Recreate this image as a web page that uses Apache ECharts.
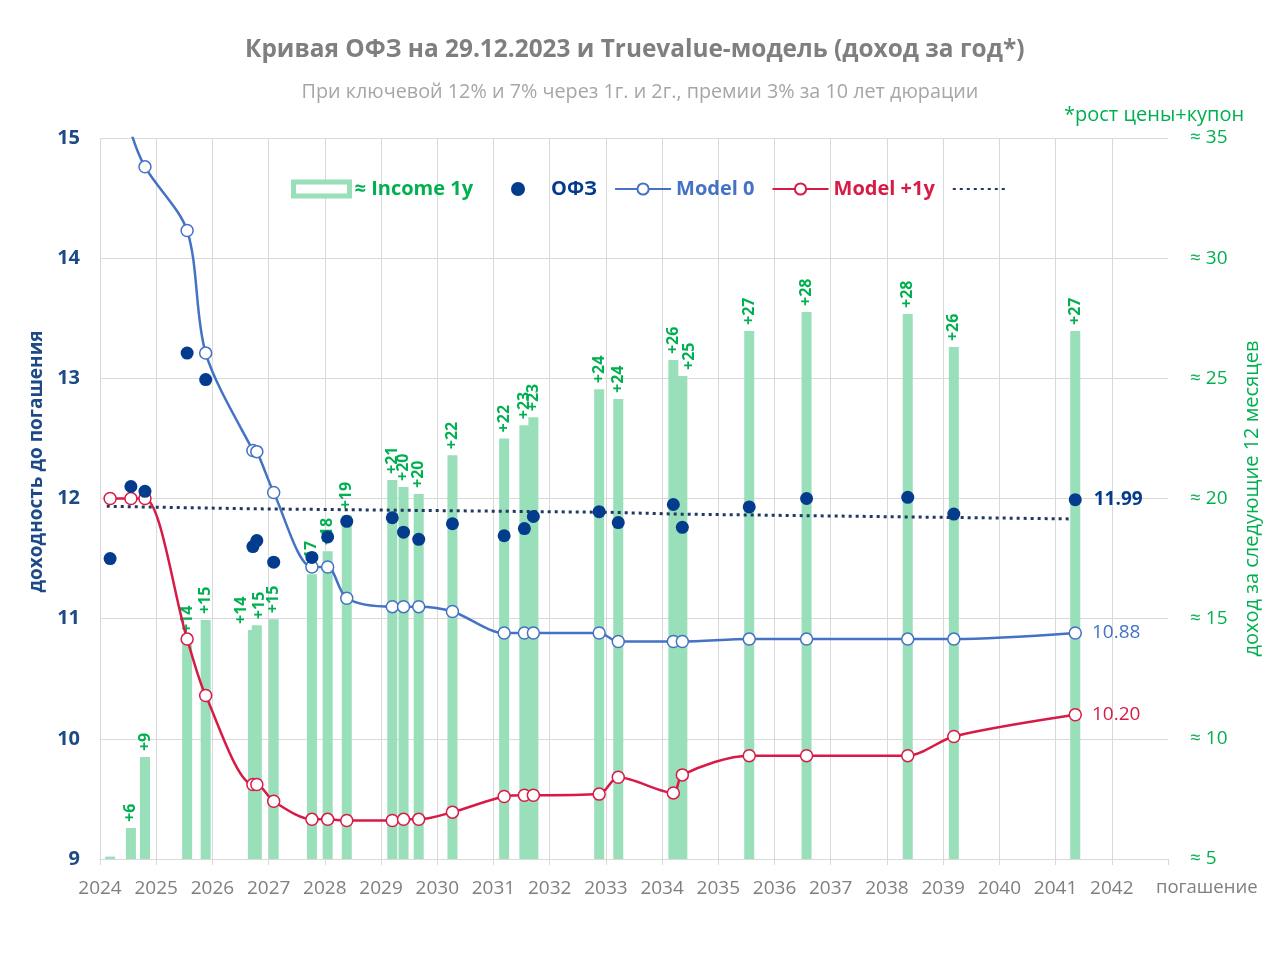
<!DOCTYPE html>
<html><head><meta charset="utf-8">
<script src="https://cdn.jsdelivr.net/npm/echarts@6/dist/echarts.min.js"></script>
<style>html,body{margin:0;padding:0;background:#fff}#c{width:1280px;height:960px}</style>
</head><body><div id="c"></div>
<script>
// maturities (decimal years)
const maturities = [2024.18, 2024.55, 2024.80, 2025.55, 2025.88, 2026.72, 2026.79, 2027.09, 2027.77, 2028.05, 2028.39, 2029.20, 2029.40, 2029.67, 2030.27, 2031.19, 2031.55, 2031.71, 2032.88, 2033.22, 2034.20, 2034.36, 2035.55, 2036.57, 2038.37, 2039.19, 2041.35];
// ОФЗ yields
const ofzYield = [11.50, 12.10, 12.06, 13.21, 12.99, 11.60, 11.65, 11.47, 11.51, 11.68, 11.81, 11.84, 11.72, 11.66, 11.79, 11.69, 11.75, 11.85, 11.89, 11.80, 11.95, 11.76, 11.93, 12.00, 12.01, 11.87, 11.99];
// Model 0
const model0 = [15.70, 15.05, 14.76, 14.23, 13.21, 12.40, 12.39, 12.05, 11.43, 11.43, 11.17, 11.10, 11.10, 11.10, 11.06, 10.88, 10.88, 10.88, 10.88, 10.81, 10.81, 10.81, 10.83, 10.83, 10.83, 10.83, 10.88];
// Model +1y
const model1 = [12.00, 12.00, 12.00, 10.83, 10.36, 9.62, 9.62, 9.48, 9.33, 9.33, 9.32, 9.32, 9.33, 9.33, 9.39, 9.52, 9.53, 9.53, 9.54, 9.68, 9.55, 9.70, 9.86, 9.86, 9.86, 10.02, 10.20];
// Income over next 12 months (right axis)
const income = [5.1, 6.29, 9.24, 14.15, 14.94, 14.53, 14.73, 14.98, 16.85, 17.8, 19.3, 20.77, 20.48, 20.19, 21.8, 22.5, 23.05, 23.38, 24.55, 24.14, 25.76, 25.1, 26.97, 27.76, 27.68, 26.3, 26.97];
const incomeLabels = ['', '+6', '+9', '+14', '+15', '+14', '+15', '+15', '+17', '+18', '+19', '+21', '+20', '+20', '+22', '+22', '+23', '+23', '+24', '+24', '+26', '+25', '+27', '+28', '+28', '+26', '+27'];
// dotted trend line
const trendX = [2024.12, 2026.61, 2033.06, 2034.30, 2041.28];
const trendY = [11.935, 11.915, 11.885, 11.87, 11.83];
// axis ticks
const xTicks = {min: 2024, max: 2043, interval: 1};
const yLeft = {min: 9, max: 15, interval: 1};
const yRight = {min: 5, max: 35, interval: 5};

// styling: horizontal nudges of crowded bar labels (px), by bar index
const labelShift = {5: -11, 6: 3, 21: 7};

const C = {
  navy: '#033b8d', axisNavy: '#1d4a87', blue: '#4472c4', red: '#d81b46',
  green: '#00b050', bar: '#99dfb9', grid: '#d9d9d9', grey: '#7f7f7f', lightGrey: '#a6a6a6', trend: '#1f3864'
};
const FF = 'Open Sans';
const last = maturities.length - 1;

function pairs(ys, endLabel) {
  return maturities.map((x, i) => {
    const item = {value: [x, ys[i]]};
    if (endLabel && i === last) item.label = endLabel;
    return item;
  });
}

// label is rotated 90°, so its local y-offset moves it horizontally on screen
const barData = maturities.map((x, i) => {
  const item = {value: [x, income[i]]};
  if (labelShift[i] !== undefined) item.label = {offset: [0, labelShift[i]]};
  return item;
});

const legendBase = {
  top: 174, itemWidth: 56, itemHeight: 14, itemGap: 17,
  formatter: n => n === 'trend' ? '' : n,
  textStyle: {fontFamily: FF, fontSize: 20, fontWeight: 'bold'}
};

const chart = echarts.init(document.getElementById('c'), null, {renderer: 'canvas'});
chart.setOption({
  backgroundColor: '#fff',
  animation: false,
  textStyle: {fontFamily: FF},
  title: [
    {text: 'Кривая ОФЗ на 29.12.2023 и Truevalue-модель (доход за год*)', left: 240, top: 33,
     textStyle: {fontFamily: FF, fontSize: 24.4, fontWeight: 'bold', color: C.grey}},
    {text: 'При ключевой 12% и 7% через 1г. и 2г., премии 3% за 10 лет дюрации', left: 'center', top: 77,
     textStyle: {fontFamily: FF, fontSize: 19.8, fontWeight: 'normal', color: C.lightGrey}},
    {text: '*рост цены+купон', left: 1059, top: 100,
     textStyle: {fontFamily: FF, fontSize: 20, fontWeight: 'normal', color: C.green}}
  ],
  legend: [
    Object.assign({}, legendBase, {
      left: 286,
      data: [{name: '≈ Income 1y', icon: 'rect', itemStyle: {color: '#fff', borderColor: C.bar, borderWidth: 5},
              textStyle: {color: C.green}}]
    }),
    Object.assign({}, legendBase, {
      left: 506,
      data: [
        {name: 'ОФЗ', icon: 'circle', itemStyle: {color: C.navy, opacity: 1}, textStyle: {color: C.navy}},
        {name: 'Model 0', textStyle: {color: C.blue}},
        {name: 'Model +1y', textStyle: {color: C.red}},
        {name: 'trend', itemStyle: {color: 'rgba(0,0,0,0)', borderColor: 'rgba(0,0,0,0)', borderWidth: 0, opacity: 0}}
      ]
    })
  ],
  grid: {left: 100, right: 112, top: 138, bottom: 101, containLabel: false},
  xAxis: {
    type: 'value', min: xTicks.min, max: xTicks.max, interval: xTicks.interval,
    name: 'погашение', nameLocation: 'end', nameGap: -12,
    nameTextStyle: {color: C.grey, fontSize: 18.5, align: 'left', verticalAlign: 'top', padding: [19, 0, 0, 0]},
    axisLine: {show: true, lineStyle: {color: C.grid}},
    axisTick: {show: true, length: 6, lineStyle: {color: C.grid}},
    axisLabel: {color: C.grey, fontSize: 19, margin: 20, formatter: v => v === xTicks.max ? '' : String(v)},
    splitLine: {show: true, showMaxLine: false, lineStyle: {color: C.grid}}
  },
  yAxis: [
    {type: 'value', min: yLeft.min, max: yLeft.max, interval: yLeft.interval, position: 'left',
     name: 'доходность до погашения', nameLocation: 'middle', nameGap: 41,
     nameTextStyle: {color: C.axisNavy, fontSize: 19, fontWeight: 'bold', padding: [0, 0, 0, 74]},
     axisLine: {show: false}, axisTick: {show: false},
     axisLabel: {color: C.axisNavy, fontSize: 20, fontWeight: 'bold', margin: 20},
     splitLine: {show: true, lineStyle: {color: C.grid}}},
    {type: 'value', min: yRight.min, max: yRight.max, interval: yRight.interval, position: 'right',
     name: 'доход за следующие 12 месяцев', nameLocation: 'middle', nameGap: 74,
     nameTextStyle: {color: C.green, fontSize: 20},
     axisLine: {show: false}, axisTick: {show: false},
     axisLabel: {color: C.green, fontSize: 19, margin: 22, formatter: v => '≈ ' + v},
     splitLine: {show: false}}
  ],
  series: [
    {name: '≈ Income 1y', type: 'bar', yAxisIndex: 1, barWidth: 10, z: 1,
     itemStyle: {color: C.bar},
     label: {show: true, position: 'top', rotate: 90, align: 'left', verticalAlign: 'middle', distance: 6,
             color: C.green, fontSize: 16, fontWeight: 'bold', fontFamily: FF,
             formatter: p => incomeLabels[p.dataIndex]},
     data: barData},
    {name: 'trend', type: 'line', z: 3, symbol: 'none', showSymbol: false,
     lineStyle: {color: C.trend, width: 3, type: [3, 4]}, itemStyle: {color: C.trend},
     data: trendX.map((x, i) => [x, trendY[i]])},
    {name: 'Model 0', type: 'line', z: 4, smooth: 0.3, clip: true,
     symbol: 'circle', symbolSize: 12,
     lineStyle: {color: C.blue, width: 2.5},
     itemStyle: {color: '#fff', borderColor: C.blue, borderWidth: 1.5},
     data: pairs(model0, {show: true, position: 'right', distance: 10, color: C.blue, fontSize: 19,
                          formatter: p => p.value[1].toFixed(2)})},
    {name: 'Model +1y', type: 'line', z: 4, smooth: 0.3, clip: true,
     symbol: 'circle', symbolSize: 12,
     lineStyle: {color: C.red, width: 2.5},
     itemStyle: {color: '#fff', borderColor: C.red, borderWidth: 1.5},
     data: pairs(model1, {show: true, position: 'right', distance: 10, color: C.red, fontSize: 19,
                          formatter: p => p.value[1].toFixed(2)})},
    {name: 'ОФЗ', type: 'scatter', z: 5, symbol: 'circle', symbolSize: 13,
     itemStyle: {color: C.navy, opacity: 1},
     data: pairs(ofzYield, {show: true, position: 'right', distance: 12, color: C.navy, fontSize: 19, fontWeight: 'bold',
                            formatter: p => p.value[1].toFixed(2)})}
  ]
});
</script></body></html>
